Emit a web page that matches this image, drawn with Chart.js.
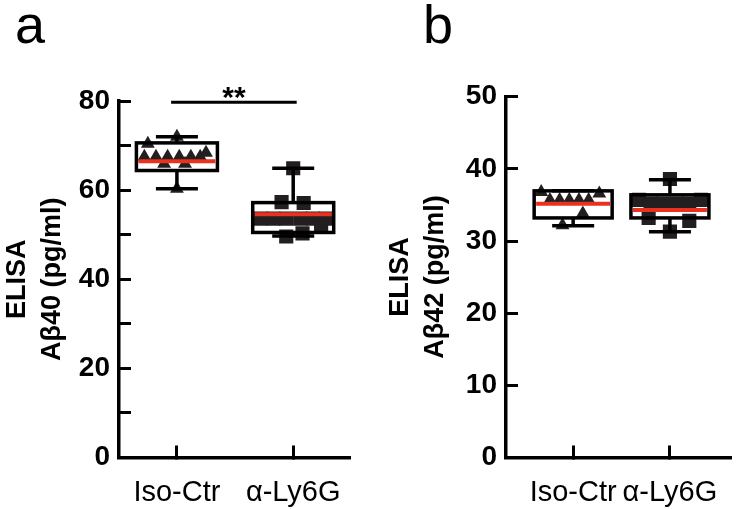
<!DOCTYPE html>
<html>
<head>
<meta charset="utf-8">
<script src="https://cdn.jsdelivr.net/npm/chart.js@4.4.1/dist/chart.umd.min.js"></script>
<style>
  html, body { margin: 0; padding: 0; background: #fff; }
  #wrap { position: relative; width: 750px; height: 509px; }
  .panel { position: absolute; top: 0; width: 375px; height: 509px; }
  #panelA { left: 0; }
  #panelB { left: 375px; }
</style>
</head>
<body>
<div id="wrap">
  <div class="panel" id="panelA"><canvas id="chartA" width="375" height="509"></canvas></div>
  <div class="panel" id="panelB"><canvas id="chartB" width="375" height="509"></canvas></div>
</div>
<script>
const groups = ['Iso-Ctr', 'α-Ly6G'];

// box stats: [min, q1, median, q3, max]
const a40IsoBox = [60.3, 64.4, 66.5, 70.6, 72.0];
const a40LyBox = [49.7, 50.5, 54.6, 57.2, 64.9];
const a42IsoBox = [32.1, 33.2, 35.15, 36.95, 36.95];
const a42LyBox = [31.3, 33.2, 34.3, 36.4, 38.5];

// individual animals (value, horizontal jitter in category units)
const a40Iso = [72.0, 70.4, 68.4, 67.5, 67.5, 67.5, 67.5, 67.5, 67.5, 65.9, 65.9, 60.3];
const a40IsoJit = [0, -0.25, 0.25, -0.28, -0.18, -0.08, 0.02, 0.12, 0.2, -0.11, 0.07, 0];
const a40Ly = [64.9, 57.3, 57.1, 53.6, 53.6, 53.6, 53.6, 53.6, 53.6, 52.3, 50.3, 49.6];
const a40LyJit = [0, -0.1, 0.09, -0.28, -0.17, -0.06, 0.06, 0.17, 0.28, 0.24, 0.08, -0.06];
const a42Iso = [36.8, 36.6, 35.7, 35.7, 35.7, 35.7, 35.7, 33.8, 32.2];
const a42IsoJit = [-0.33, 0.27, -0.24, -0.14, -0.04, 0.06, 0.16, 0.1, -0.11];
const a42Ly = [38.6, 35.7, 35.7, 35.2, 35.2, 35.2, 35.2, 33.2, 32.8, 31.3];
const a42LyJit = [0, -0.32, 0.32, -0.2, -0.07, 0.07, 0.2, -0.22, 0.2, 0];

Chart.defaults.font.family = '"Liberation Sans", Arial, sans-serif';
Chart.defaults.color = '#000';

const INK = '#231f20';
const RED = '#e8311f';

const toPoints = (vals, jit, idx) => vals.map((v, i) => ({ x: idx + jit[i], y: v }));

// draws the box-and-whisker marks through the chart scales
const boxPlugin = {
  id: 'boxes',
  beforeDatasetsDraw(chart, args, o) {
    const { ctx, scales: { x, y } } = chart;
    ctx.save();
    ctx.fillStyle = '#fff';
    o.boxes.forEach((b, i) => {
      const cx = x.getPixelForValue(i);
      const top = y.getPixelForValue(b[3]);
      const bot = y.getPixelForValue(b[1]);
      ctx.fillRect(cx - o.boxWidth / 2, top, o.boxWidth, bot - top);
    });
    ctx.restore();
  },
  afterDatasetsDraw(chart, args, o) {
    const { ctx, scales: { x, y } } = chart;
    ctx.save();
    ctx.strokeStyle = '#000';
    ctx.lineWidth = 3.5;
    o.boxes.forEach((b, i) => {
      const cx = x.getPixelForValue(i);
      const half = o.boxWidth / 2;
      const [pMin, pQ1, pMed, pQ3, pMax] = b.map(v => y.getPixelForValue(v));
      ctx.beginPath();
      // whiskers
      ctx.moveTo(cx, pQ3); ctx.lineTo(cx, pMax);
      ctx.moveTo(cx, pQ1); ctx.lineTo(cx, pMin);
      ctx.moveTo(cx - o.capWidth / 2, pMax); ctx.lineTo(cx + o.capWidth / 2, pMax);
      ctx.moveTo(cx - o.capWidth / 2, pMin); ctx.lineTo(cx + o.capWidth / 2, pMin);
      ctx.stroke();
      ctx.strokeRect(cx - half, pQ3, o.boxWidth, pQ1 - pQ3);
      // median
      ctx.beginPath();
      ctx.strokeStyle = RED;
      ctx.lineWidth = 4;
      ctx.moveTo(cx - half + 2, pMed); ctx.lineTo(cx + half - 2, pMed);
      ctx.stroke();
      ctx.strokeStyle = '#000';
      ctx.lineWidth = 3.5;
    });
    ctx.restore();
  },
  afterDraw(chart, args, o) {
    const { ctx, scales: { x, y } } = chart;
    ctx.save();
    ctx.fillStyle = '#000';
    ctx.font = '54px "Liberation Sans", Arial, sans-serif';
    ctx.textBaseline = 'alphabetic';
    ctx.fillText(o.letter, o.letterX, 43);
    if (o.sig) {
      const py = y.getPixelForValue(o.sig.level);
      ctx.lineWidth = 3;
      ctx.strokeStyle = '#000';
      ctx.beginPath();
      ctx.moveTo(x.getPixelForValue(o.sig.from), py);
      ctx.lineTo(x.getPixelForValue(o.sig.to), py);
      ctx.stroke();
      ctx.font = 'bold 30px "Liberation Sans", Arial, sans-serif';
      ctx.textAlign = 'center';
      ctx.textBaseline = 'alphabetic';
      ctx.fillText(o.sig.text, x.getPixelForValue((o.sig.from + o.sig.to) / 2), py + 5);
    }
    ctx.restore();
  }
};

function makeChart(id, cfg) {
  return new Chart(document.getElementById(id), {
    type: 'scatter',
    data: {
      datasets: [
        {
          data: cfg.isoPts,
          pointStyle: 'triangle',
          pointRadius: 8,
          backgroundColor: INK,
          borderWidth: 0
        },
        {
          data: cfg.lyPts,
          pointStyle: 'rect',
          pointRadius: 10,
          backgroundColor: INK,
          borderWidth: 0
        }
      ]
    },
    options: {
      responsive: false,
      animation: false,
      devicePixelRatio: 1,
      layout: { padding: { top: cfg.top, right: cfg.right, left: 0, bottom: 0 } },
      plugins: {
        legend: { display: false },
        tooltip: { enabled: false },
        boxes: {
          boxes: cfg.boxes,
          boxWidth: cfg.boxWidth,
          capWidth: 42,
          letter: cfg.letter,
          letterX: cfg.letterX,
          sig: cfg.sig
        }
      },
      scales: {
        x: {
          type: 'linear',
          min: cfg.xMin,
          max: cfg.xMax,
          afterBuildTicks: s => { s.ticks = [{ value: 0 }, { value: 1 }]; },
          afterFit: s => { s.height = 51.5; },
          border: { color: '#000', width: 3.5 },
          grid: { drawOnChartArea: false, tickLength: -12, tickWidth: 3, tickColor: '#000' },
          ticks: {
            padding: 30,
            autoSkip: false,
            maxRotation: 0,
            font: { size: 29 },
            callback: v => groups[v] ?? ''
          }
        },
        y: {
          min: 0,
          max: cfg.yMax,
          afterFit: s => { s.width = cfg.yWidth; },
          border: { color: '#000', width: 3.5 },
          grid: { drawOnChartArea: false, tickLength: -12, tickWidth: 3, tickColor: '#000' },
          ticks: {
            stepSize: cfg.yStep,
            padding: 21,
            font: { size: 28, weight: 'bold' },
            callback: v => (v % cfg.yLabelEvery === 0 ? v : '')
          },
          title: {
            display: true,
            text: ['ELISA', cfg.yTitle],
            font: { size: 27, weight: 'bold', lineHeight: 1.3 },
            padding: { top: cfg.titlePad, bottom: 0 }
          }
        }
      }
    },
    plugins: [boxPlugin]
  });
}

makeChart('chartA', {
  isoPts: toPoints(a40Iso, a40IsoJit, 0),
  lyPts: toPoints(a40Ly, a40LyJit, 1),
  boxes: [a40IsoBox, a40LyBox],
  boxWidth: 81,
  letter: 'a',
  letterX: 15,
  sig: { from: -0.05, to: 1.03, level: 79.7, text: '**' },
  top: 101,
  right: 18,
  xMin: -0.498,
  xMax: 1.494,
  yMax: 80,
  yStep: 10,
  yLabelEvery: 20,
  yWidth: 119,
  yTitle: 'Aβ40 (pg/ml)',
  titlePad: 0
});

makeChart('chartB', {
  isoPts: toPoints(a42Iso, a42IsoJit, 0),
  lyPts: toPoints(a42Ly, a42LyJit, 1),
  boxes: [a42IsoBox, a42LyBox],
  boxWidth: 78,
  letter: 'b',
  letterX: 48,
  sig: null,
  top: 96.7,
  right: 0,
  xMin: -0.694,
  xMax: 1.64,
  yMax: 50,
  yStep: 5,
  yLabelEvery: 10,
  yWidth: 131,
  yTitle: 'Aβ42 (pg/ml)',
  titlePad: 7.5
});
</script>
</body>
</html>
